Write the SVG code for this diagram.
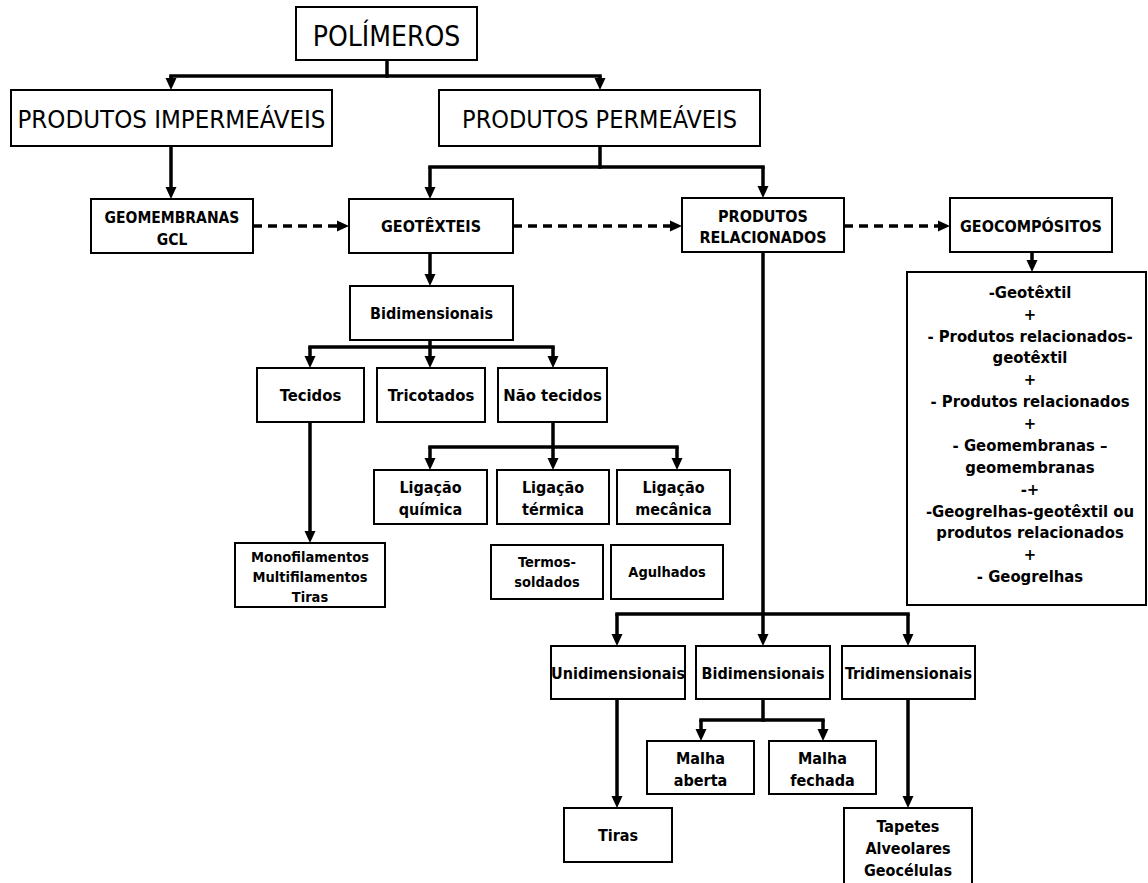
<svg xmlns="http://www.w3.org/2000/svg" width="1148" height="883" viewBox="0 0 1148 883">
<style>
.box{fill:#fff;stroke:#000;stroke-width:2}
.t{font-family:"DejaVu Sans Condensed","DejaVu Sans",sans-serif;font-stretch:condensed;font-weight:bold;font-size:16px;text-anchor:middle;fill:#000}
.big{font-weight:normal;font-size:25px}
.s{font-size:14.5px}
.g{font-size:16.5px}
.m{font-size:16.5px}
.c{fill:none;stroke:#000;stroke-width:3.5;stroke-linecap:square}
.a{fill:none;stroke:#000;stroke-width:3.5;marker-end:url(#ah)}
.d{fill:none;stroke:#000;stroke-width:3.5;stroke-dasharray:9 6;marker-end:url(#ah)}
</style>
<defs>
<marker id="ah" viewBox="0 0 12 12" refX="6" refY="6" markerWidth="12" markerHeight="12" markerUnits="userSpaceOnUse" orient="auto">
<path d="M0,0.5 L12,6 L0,11.5 z" fill="#000"/>
</marker>
</defs>
<rect width="1148" height="883" fill="#fff"/>
<g id="connectors">
<path class="c" d="M387,60 V76"/>
<path class="c" d="M171,76 H600"/>
<path class="a" d="M171,76 V84"/>
<path class="a" d="M600,76 V84"/>
<path class="a" d="M171,146 V193"/>
<path class="c" d="M600,146 V167"/>
<path class="c" d="M430,167 H763"/>
<path class="a" d="M430,167 V193"/>
<path class="a" d="M763,167 V192"/>
<path class="d" d="M253,226 H343"/>
<path class="d" d="M513,226 H676"/>
<path class="d" d="M844,226 H944"/>
<path class="a" d="M1032,252 V266"/>
<path class="a" d="M430,253 V280"/>
<path class="c" d="M310,347 H553"/>
<path class="a" d="M310,347 V362"/>
<path class="a" d="M430,340 V362"/>
<path class="a" d="M553,347 V362"/>
<path class="a" d="M310,422 V537"/>
<path class="c" d="M430,447 H677"/>
<path class="a" d="M553,422 V464"/>
<path class="a" d="M430,447 V464"/>
<path class="a" d="M677,447 V464"/>
<path class="c" d="M617,614 H908"/>
<path class="a" d="M763,252 V640"/>
<path class="a" d="M617,614 V640"/>
<path class="a" d="M908,614 V640"/>
<path class="a" d="M617,699 V802"/>
<path class="a" d="M908,699 V802"/>
<path class="c" d="M763,699 V720"/>
<path class="c" d="M701,720 H823"/>
<path class="a" d="M701,720 V735"/>
<path class="a" d="M823,720 V735"/>
</g>
<g id="polimeros"><rect class="box" x="296" y="7" width="181" height="53"/><text class="t big" x="386.5" y="46" style="font-size:28px">POLÍMEROS</text></g>
<g id="impermeaveis"><rect class="box" x="11" y="90" width="321" height="56"/><text class="t big" x="171.5" y="128" style="font-size:25.6px">PRODUTOS IMPERMEÁVEIS</text></g>
<g id="permeaveis"><rect class="box" x="439" y="90" width="321" height="56"/><text class="t big" x="599.5" y="128">PRODUTOS PERMEÁVEIS</text></g>
<g id="geomembranas"><rect class="box" x="91" y="199" width="162" height="54"/><text class="t" x="172" y="223" style="font-size:15.5px">GEOMEMBRANAS</text><text class="t" x="172" y="245" style="font-size:15.5px">GCL</text></g>
<g id="geotexteis"><rect class="box" x="349" y="199" width="164" height="54"/><text class="t" x="431" y="232">GEOTÊXTEIS</text></g>
<g id="relacionados"><rect class="box" x="682" y="198" width="162" height="54"/><text class="t" x="763" y="222">PRODUTOS</text><text class="t" x="763" y="243">RELACIONADOS</text></g>
<g id="geocompositos"><rect class="box" x="950" y="198" width="162" height="54"/><text class="t" x="1031" y="231.5">GEOCOMPÓSITOS</text></g>
<g id="geocomp-lista"><rect class="box" x="907" y="272" width="239" height="333"/>
<text class="t g" x="1030" y="298">-Geotêxtil</text>
<text class="t g" x="1030" y="320">+</text>
<text class="t g" x="1030" y="342">- Produtos relacionados-</text>
<text class="t g" x="1030" y="363">geotêxtil</text>
<text class="t g" x="1030" y="385">+</text>
<text class="t g" x="1030" y="407">- Produtos relacionados</text>
<text class="t g" x="1030" y="429">+</text>
<text class="t g" x="1030" y="451">- Geomembranas –</text>
<text class="t g" x="1030" y="473">geomembranas</text>
<text class="t g" x="1030" y="495">-+</text>
<text class="t g" x="1030" y="517">-Geogrelhas-geotêxtil ou</text>
<text class="t g" x="1030" y="538">produtos relacionados</text>
<text class="t g" x="1030" y="560">+</text>
<text class="t g" x="1030" y="582">- Geogrelhas</text>
</g>
<g id="bidimensionais1"><rect class="box" x="350" y="286" width="163" height="54"/><text class="t" x="431.5" y="319">Bidimensionais</text></g>
<g id="tecidos"><rect class="box" x="257" y="368" width="107" height="54"/><text class="t m" x="310.5" y="401">Tecidos</text></g>
<g id="tricotados"><rect class="box" x="377" y="368" width="108" height="54"/><text class="t m" x="431" y="401">Tricotados</text></g>
<g id="naotecidos"><rect class="box" x="498" y="368" width="109" height="54"/><text class="t m" x="552.5" y="401">Não tecidos</text></g>
<g id="lig-quimica"><rect class="box" x="374" y="470" width="113" height="54"/><text class="t" x="430.5" y="493">Ligação</text><text class="t" x="430.5" y="515">química</text></g>
<g id="lig-termica"><rect class="box" x="497" y="470" width="112" height="54"/><text class="t" x="553" y="493">Ligação</text><text class="t" x="553" y="515">térmica</text></g>
<g id="lig-mecanica"><rect class="box" x="617" y="470" width="113" height="54"/><text class="t" x="673.5" y="493">Ligação</text><text class="t" x="673.5" y="515">mecânica</text></g>
<g id="filamentos"><rect class="box" x="235" y="543" width="150" height="64"/><text class="t s" x="310" y="562">Monofilamentos</text><text class="t s" x="310" y="582">Multifilamentos</text><text class="t s" x="310" y="602">Tiras</text></g>
<g id="termossoldados"><rect class="box" x="491" y="545" width="112" height="54"/><text class="t s" x="547" y="567">Termos-</text><text class="t s" x="547" y="587">soldados</text></g>
<g id="agulhados"><rect class="box" x="611" y="545" width="112" height="54"/><text class="t s" x="667" y="577">Agulhados</text></g>
<g id="unidimensionais"><rect class="box" x="551" y="646" width="134" height="53"/><text class="t" x="618" y="678.5">Unidimensionais</text></g>
<g id="bidimensionais2"><rect class="box" x="696" y="646" width="134" height="53"/><text class="t" x="763" y="678.5">Bidimensionais</text></g>
<g id="tridimensionais"><rect class="box" x="842" y="646" width="133" height="53"/><text class="t" x="908.5" y="678.5">Tridimensionais</text></g>
<g id="malha-aberta"><rect class="box" x="647" y="741" width="107" height="53"/><text class="t" x="700.5" y="764">Malha</text><text class="t" x="700.5" y="786">aberta</text></g>
<g id="malha-fechada"><rect class="box" x="769" y="741" width="107" height="53"/><text class="t" x="822.5" y="764">Malha</text><text class="t" x="822.5" y="786">fechada</text></g>
<g id="tiras"><rect class="box" x="564" y="808" width="108" height="54"/><text class="t" x="618" y="841">Tiras</text></g>
<g id="tapetes"><rect class="box" x="844" y="808" width="128" height="90"/><text class="t" x="908" y="832">Tapetes</text><text class="t" x="908" y="854">Alveolares</text><text class="t" x="908" y="876">Geocélulas</text></g>
</svg>
